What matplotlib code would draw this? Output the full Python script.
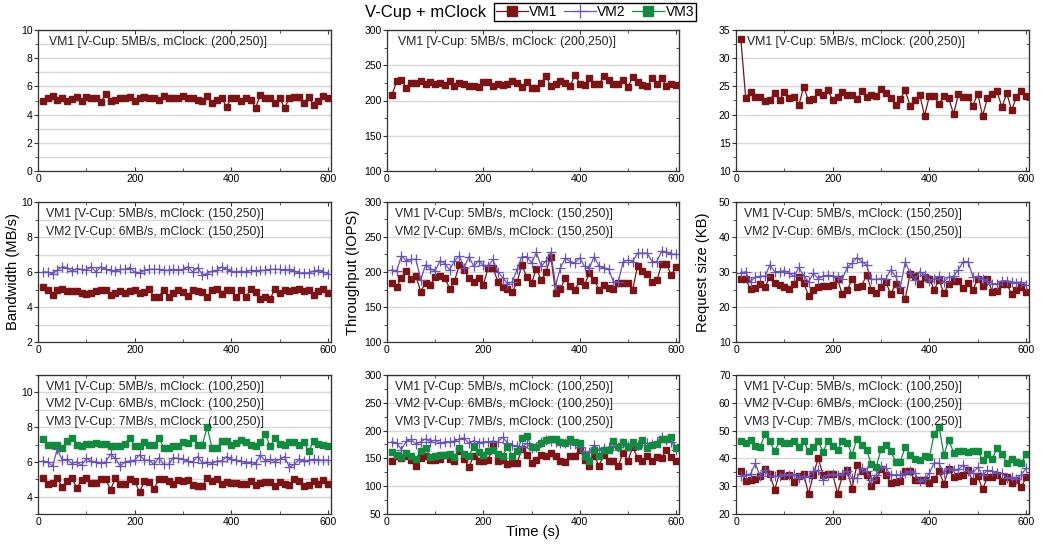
import matplotlib
matplotlib.use('Agg')
import matplotlib.pyplot as plt
from matplotlib.ticker import MultipleLocator
from matplotlib.lines import Line2D

plt.rcParams['font.family'] = ['Liberation Sans', 'DejaVu Sans']

time_s = list(range(10, 610, 10))

# row 1: VM1 alone, mClock (200,250)
bw_200_vm1 = [5.0, 5.2, 5.35, 5.05, 5.2, 5.0, 5.1, 5.25, 5.0, 5.25, 5.2, 5.15, 4.9, 5.45, 5.0,
              5.05, 5.2, 5.2, 5.25, 5.0, 5.15, 5.25, 5.15, 5.2, 5.05, 5.35, 5.15, 5.15, 5.2, 5.3,
              5.15, 5.15, 5.05, 5.0, 5.3, 4.85, 5.05, 5.15, 4.55, 5.2, 5.15, 5.0, 5.2, 5.05, 4.5,
              5.4, 5.15, 5.15, 4.85, 5.2, 4.45, 5.2, 5.25, 5.25, 4.85, 5.25, 4.65, 5.0, 5.35, 5.15]
iops_200_vm1 = [207.5, 227, 229, 218, 225, 225, 228, 224, 226, 223, 225, 222, 228, 221, 225,
                223, 220, 220, 219.5, 226, 226, 220, 224, 222, 223, 227, 225, 219.5, 226, 218,
                218, 225, 234.5, 220, 223, 228, 225, 220, 236.5, 224, 222, 232, 223, 223, 234.5,
                229, 223, 223, 229.5, 219.5, 233, 226.5, 222, 220, 231.5, 223, 231.5, 220, 224, 221.5]
rs_200_vm1 = [33.4, 23.0, 24.0, 23.2, 23.2, 22.4, 22.6, 23.8, 22.5, 24.0, 23.0, 23.2, 21.7, 24.9, 22.5,
              22.7, 24.0, 23.4, 24.3, 22.6, 23.1, 24.0, 23.5, 23.5, 22.7, 24.1, 23.1, 23.5, 23.3, 24.5,
              23.8, 23.0, 21.7, 22.8, 24.3, 21.6, 22.6, 23.5, 19.8, 23.3, 23.3, 21.8, 23.3, 22.9, 20.1,
              23.6, 23.1, 23.1, 21.6, 23.7, 19.8, 22.9, 23.6, 24.1, 21.3, 23.8, 20.8, 23.1, 24.1, 23.3]

# row 2: VM1 + VM2, mClock (150,250)
bw_150_vm1 = [5.15, 5.0, 4.7, 5.0, 5.05, 4.9, 4.9, 4.9, 4.8, 4.75, 4.8, 4.9, 5.0, 5.0, 4.7,
              4.8, 4.9, 4.8, 4.9, 5.0, 4.8, 4.85, 5.05, 4.55, 4.6, 5.0, 4.55, 4.8, 4.95, 4.85,
              4.65, 5.0, 4.9, 4.85, 4.55, 5.0, 5.05, 4.75, 5.0, 4.95, 4.55, 5.0, 4.55, 5.05, 4.85,
              4.45, 4.6, 4.45, 5.05, 4.8, 4.95, 4.9, 4.95, 5.05, 4.9, 5.0, 4.7, 4.9, 5.05, 4.8]
bw_150_vm2 = [6.0, 6.0, 5.9, 6.1, 6.3, 6.25, 6.05, 6.2, 6.15, 6.1, 6.3, 6.0, 6.3, 6.15, 6.1,
              6.05, 6.15, 6.15, 6.25, 6.0, 5.95, 6.1, 6.15, 6.15, 6.15, 6.1, 6.1, 6.15, 6.1, 6.15,
              6.3, 6.0, 6.25, 5.85, 5.9, 6.05, 6.1, 6.3, 6.15, 6.05, 6.0, 6.05, 6.0, 6.1, 6.05,
              6.1, 6.1, 6.15, 6.15, 6.15, 6.1, 6.15, 6.05, 5.95, 5.95, 5.95, 6.05, 6.1, 6.0, 5.9]
iops_150_vm1 = [184, 178, 192, 202, 190, 194, 172, 185, 182, 193, 194, 192, 176, 187, 210,
                203, 191, 186, 192, 182, 206, 206, 186, 178, 176, 171, 186, 210, 193, 184,
                205, 189, 200, 222, 170, 176, 191, 180, 175, 187, 182, 198, 188, 175, 182,
                177, 176, 185, 185, 185, 175, 209, 202, 197, 186, 188, 211, 211, 196, 207]
iops_150_vm2 = [203, 201.5, 223, 216, 218, 218, 189, 210, 205, 201.5, 216, 212, 203, 216, 223,
                206, 222, 208, 216, 210, 208, 218, 200, 192, 183, 186, 204, 222, 222, 213,
                228, 208, 216, 228, 181, 206, 220, 215, 213, 220, 208, 206, 222, 208, 206,
                204, 186, 186, 215, 217, 215, 227, 227, 227, 215, 215, 230, 228, 225.5, 225.5]
rs_150_vm1 = [28.1, 27.9, 25.1, 25.3, 26.6, 25.8, 28.5, 26.9, 26.3, 25.8, 25.1, 26.6, 28.5, 27.0, 23.2,
              25.0, 25.8, 26.1, 26.1, 26.3, 27.9, 23.6, 24.8, 27.9, 25.8, 26.1, 29.1, 25.0, 24.0, 25.8,
              27.2, 23.6, 26.7, 25.0, 22.4, 29.3, 28.8, 26.7, 28.5, 28.1, 25.0, 27.7, 23.9, 26.7, 27.5,
              27.5, 25.5, 26.9, 25.0, 27.9, 26.1, 28.1, 24.3, 24.5, 26.6, 26.7, 23.7, 24.8, 25.8, 24.2]
rs_150_vm2 = [29.8, 30.1, 27.2, 28.6, 28.8, 28.8, 32.0, 30.1, 30.1, 30.4, 29.6, 28.8, 31.3, 29.0, 27.2,
              29.6, 28.1, 28.8, 29.1, 28.9, 28.6, 28.1, 31.3, 32.5, 34.1, 33.0, 32.0, 27.9, 27.9, 28.1,
              28.1, 30.6, 28.8, 25.8, 32.8, 29.8, 27.7, 30.1, 29.1, 27.5, 28.1, 28.8, 27.2, 28.6, 28.8,
              30.6, 33.0, 33.0, 28.6, 28.6, 28.1, 27.5, 26.7, 26.6, 27.5, 27.5, 27.2, 27.0, 27.2, 26.3]

# row 3: VM1 + VM2 + VM3, mClock (100,250)
bw_100_vm1 = [5.05, 4.7, 4.8, 5.05, 4.55, 4.9, 5.1, 4.5, 4.95, 5.05, 4.8, 4.8, 5.0, 5.0, 4.4,
              5.05, 4.7, 4.7, 5.0, 4.9, 4.25, 4.9, 4.85, 4.45, 5.0, 5.0, 4.9, 4.7, 4.95, 4.9,
              4.95, 4.65, 4.6, 4.6, 5.1, 4.9, 5.0, 4.7, 4.85, 4.8, 4.8, 4.75, 4.7, 4.9, 4.65,
              4.8, 4.85, 4.85, 4.6, 4.85, 4.7, 4.65, 5.0, 4.9, 4.6, 4.65, 4.9, 4.7, 4.95, 4.75]
bw_100_vm2 = [6.05, 6.0, 5.75, 6.75, 6.1, 6.15, 5.9, 6.0, 5.8, 6.2, 6.05, 6.0, 5.95, 6.0, 6.45,
              6.2, 5.75, 6.0, 6.05, 6.1, 6.4, 6.1, 6.1, 5.85, 6.25, 5.85, 5.85, 6.25, 6.2, 6.15,
              6.05, 6.0, 6.3, 5.95, 6.0, 5.9, 6.05, 6.05, 6.3, 6.15, 6.1, 6.05, 5.95, 6.0, 5.9,
              6.4, 6.05, 6.15, 6.0, 6.15, 6.3, 5.7, 5.85, 6.15, 6.05, 6.1, 6.15, 6.1, 6.1, 6.1]
bw_100_vm3 = [7.3, 6.95, 7.0, 7.0, 6.8, 7.2, 7.35, 7.0, 6.9, 7.05, 7.05, 7.1, 7.05, 7.05, 6.9,
              6.9, 6.9, 7.05, 7.4, 6.9, 6.9, 7.15, 7.0, 7.0, 7.4, 6.8, 6.8, 6.9, 6.9, 7.15,
              7.1, 7.35, 7.0, 7.0, 8.0, 6.8, 6.8, 7.2, 7.2, 7.0, 7.1, 7.25, 7.15, 7.0, 6.9,
              7.15, 7.6, 6.9, 7.35, 7.05, 6.95, 7.15, 7.15, 7.0, 7.15, 6.6, 7.2, 7.05, 7.0, 6.9]
iops_100_vm1 = [146, 154, 151, 154, 148, 137, 151, 154, 148, 148, 149, 157, 149, 146, 163,
                149, 134, 155, 146, 146, 148, 172, 145, 148, 140, 142, 142, 167, 157, 142,
                148, 156, 154, 160, 154, 145, 143, 154, 155, 166, 148, 137, 154, 137, 156,
                145, 145, 137, 160, 146, 170, 151, 145, 155, 145, 152, 151, 166, 152, 145]
iops_100_vm2 = [180, 178, 166, 181, 184, 176, 180, 185, 180, 183, 177, 180, 180, 181, 185,
                187, 177, 182, 178, 180, 180, 181, 180, 188, 178, 174, 172, 170, 177, 168,
                170, 180, 183, 182, 180, 178, 178, 176, 176, 171, 162, 162, 174, 165, 168,
                170, 172, 171, 177, 172, 176, 174, 178, 177, 175, 180, 188, 183, 180, 166]
iops_100_vm3 = [161, 156, 152, 159, 155, 149, 163, 169, 152, 155, 156, 156, 158, 152, 169,
                158, 155, 171, 161, 157, 163, 165, 158, 155, 171, 154, 163, 186, 191, 171,
                171, 177, 183, 185, 185, 180, 177, 185, 180, 178, 154, 145, 165, 154, 166,
                166, 181, 171, 180, 171, 180, 172, 183, 169, 174, 176, 185, 184, 188, 169]
rs_100_vm1 = [35.5, 32.0, 32.3, 32.5, 33.5, 36.1, 34.3, 28.7, 34.7, 33.5, 34.1, 31.4, 33.5, 34.4, 27.3,
              34.1, 40.1, 34.1, 34.4, 34.4, 27.3, 33.8, 35.9, 29.1, 37.7, 35.3, 34.1, 30.1, 32.3, 36.1,
              34.1, 31.1, 31.4, 31.9, 35.3, 35.3, 32.1, 32.1, 32.1, 31.1, 32.7, 35.3, 30.9, 36.1, 33.3,
              33.7, 34.1, 35.7, 31.7, 33.5, 29.0, 33.3, 33.3, 34.1, 31.7, 33.3, 31.1, 32.3, 29.6, 33.3]
rs_100_vm2 = [33.8, 34.1, 34.4, 38.2, 33.5, 35.9, 33.5, 33.5, 33.5, 34.3, 34.1, 34.3, 32.9, 33.7, 33.3,
              35.6, 35.7, 32.1, 34.1, 34.3, 34.1, 34.4, 35.6, 32.9, 32.9, 36.5, 35.3, 32.3, 34.1, 37.1,
              36.5, 34.1, 34.1, 34.1, 34.7, 35.3, 34.7, 31.7, 32.5, 34.7, 38.5, 38.2, 34.7, 36.5, 35.9,
              36.1, 37.6, 35.3, 34.7, 36.8, 34.1, 35.7, 35.3, 34.7, 34.7, 32.9, 33.3, 32.5, 34.1, 36.5]
rs_100_vm3 = [46.1, 45.5, 46.5, 44.6, 44.1, 48.8, 46.3, 42.5, 46.3, 45.7, 45.7, 46.3, 44.0, 46.3, 42.5,
              44.0, 46.3, 42.3, 46.3, 44.6, 43.0, 46.1, 45.7, 41.3, 46.9, 44.9, 43.0, 38.0, 37.0, 43.3,
              44.9, 42.7, 38.8, 38.8, 44.2, 41.3, 39.7, 39.5, 40.7, 40.4, 48.9, 51.4, 41.3, 46.7, 42.1,
              42.5, 42.8, 42.3, 42.8, 42.5, 39.5, 41.6, 39.7, 43.7, 41.6, 38.3, 39.7, 38.8, 38.3, 41.6]

labels_200 = ['VM1 [V-Cup: 5MB/s, mClock: (200,250)]']
labels_150 = ['VM1 [V-Cup: 5MB/s, mClock: (150,250)]',
              'VM2 [V-Cup: 6MB/s, mClock: (150,250)]']
labels_100 = ['VM1 [V-Cup: 5MB/s, mClock: (100,250)]',
              'VM2 [V-Cup: 6MB/s, mClock: (100,250)]',
              'VM3 [V-Cup: 7MB/s, mClock: (100,250)]']

c_vm1 = '#7a1416'
c_vm2 = '#6a52b6'
c_vm3 = '#148a40'

styles = [
    dict(color=c_vm1, marker='s', markersize=5, lw=0.9, label='VM1'),
    dict(color=c_vm2, marker='+', markersize=7, mew=0.9, lw=0.9, label='VM2'),
    dict(color=c_vm3, marker='s', markersize=5, lw=0.9, label='VM3'),
]

panels = [
    # row, col, series, ylim, major, minor, labels
    (0, 0, [bw_200_vm1], (0, 10), 2, 1, labels_200),
    (0, 1, [iops_200_vm1], (100, 300), 50, 25, labels_200),
    (0, 2, [rs_200_vm1], (10, 35), 5, 2.5, labels_200),
    (1, 0, [bw_150_vm1, bw_150_vm2], (2, 10), 2, 1, labels_150),
    (1, 1, [iops_150_vm1, iops_150_vm2], (100, 300), 50, 25, labels_150),
    (1, 2, [rs_150_vm1, rs_150_vm2], (10, 50), 10, 5, labels_150),
    (2, 0, [bw_100_vm1, bw_100_vm2, bw_100_vm3], (3, 11), 2, 1, labels_100),
    (2, 1, [iops_100_vm1, iops_100_vm2, iops_100_vm3], (50, 300), 50, 25, labels_100),
    (2, 2, [rs_100_vm1, rs_100_vm2, rs_100_vm3], (20, 70), 10, 5, labels_100),
]

W, H = 1041, 544
col_x = [(38, 331), (387, 679), (736, 1029)]
row_y = [(30, 171), (202, 342), (375, 514)]

fig = plt.figure(figsize=(W / 100, H / 100), dpi=100)

for row, col, series, ylim, major, minor, labels in panels:
    x0, x1 = col_x[col]
    y0, y1 = row_y[row]
    ax = fig.add_axes([x0 / W, 1 - y1 / H, (x1 - x0) / W, (y1 - y0) / H])
    for vals, st in zip(series, styles):
        ax.plot(time_s, vals, **st)
    ax.set_xlim(0, 606)
    ax.set_ylim(*ylim)
    ax.xaxis.set_major_locator(MultipleLocator(200))
    ax.xaxis.set_minor_locator(MultipleLocator(100))
    ax.yaxis.set_major_locator(MultipleLocator(major))
    ax.yaxis.set_minor_locator(MultipleLocator(minor))
    ax.grid(True, axis='y', which='major', color='#d8d8d8', lw=1)
    if col == 0:
        ax.grid(True, axis='y', which='minor', color='#d8d8d8', lw=1)
    ax.set_axisbelow(True)
    for sp in ax.spines.values():
        sp.set_color('#333333')
        sp.set_linewidth(0.9)
    ax.tick_params(axis='y', which='both', direction='out', length=3, labelsize=7.5,
                   color='#333333', pad=1)
    ax.tick_params(axis='x', which='both', direction='in', length=3, labelsize=7.5,
                   color='#333333', pad=2)
    ax.tick_params(axis='y', which='minor', length=2)
    ax.tick_params(axis='x', which='minor', length=2)
    # inward ticks on the right and top
    sy = ax.secondary_yaxis('right')
    sy.yaxis.set_major_locator(MultipleLocator(major))
    sy.yaxis.set_minor_locator(MultipleLocator(minor))
    sy.tick_params(which='both', direction='in', length=3, labelright=False, color='#333333')
    sy.tick_params(which='minor', length=2)
    sy.spines['right'].set_color('#333333')
    sx = ax.secondary_xaxis('top')
    sx.xaxis.set_major_locator(MultipleLocator(200))
    sx.xaxis.set_minor_locator(MultipleLocator(100))
    sx.tick_params(which='both', direction='in', length=3, labeltop=False, color='#333333')
    sx.tick_params(which='minor', length=2)
    sx.spines['top'].set_color('#333333')

    dx = 11 if row == 0 else 8
    for i, txt in enumerate(labels):
        ax.annotate(txt, xy=(0, 1), xycoords='axes fraction',
                    xytext=(dx, -12 - 17.5 * i), textcoords='offset pixels',
                    ha='left', va='center', fontsize=8.8, color='#222222')

fig.text(13 / W, 1 - 272 / H, 'Bandwidth (MB/s)', rotation=90, ha='center', va='center', fontsize=10.6)
fig.text(353 / W, 1 - 272 / H, 'Throughput (IOPS)', rotation=90, ha='center', va='center', fontsize=10.6)
fig.text(703 / W, 1 - 272 / H, 'Request size (KB)', rotation=90, ha='center', va='center', fontsize=10.6)
fig.text(533 / W, 1 - 532 / H, 'Time (s)', ha='center', va='center', fontsize=10.6)

fig.text(426 / W, 1 - 12 / H, 'V-Cup + mClock', ha='center', va='center', fontsize=12)

handles = [Line2D([], [], **st) for st in styles]
leg = fig.legend(handles=handles, loc='upper left', bbox_to_anchor=(494 / W, 1 - 3 / H),
                 ncol=3, fontsize=10, frameon=True, fancybox=False, framealpha=1,
                 edgecolor='black', borderpad=0.15, borderaxespad=0, handlelength=2.3,
                 handletextpad=0.1, columnspacing=0.45, markerscale=1.5)
leg.get_frame().set_linewidth(1)

fig.savefig('out.png', dpi=100)
